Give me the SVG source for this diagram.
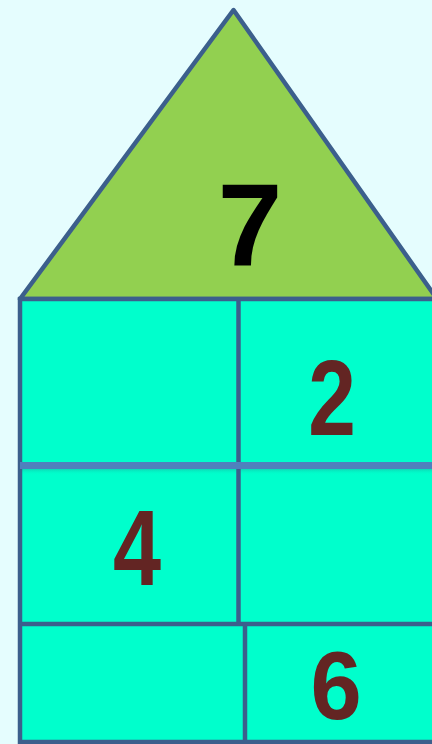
<svg xmlns="http://www.w3.org/2000/svg" width="432" height="744" viewBox="0 0 432 744">
<defs>
<style>
.ln{stroke:#3c5f8c;stroke-width:4.5;fill:none}
.cell{fill:#00ffcc}
.num{font-family:"Liberation Sans",Arial,sans-serif;font-weight:bold;text-anchor:middle;fill:#632523}
</style>
<linearGradient id="sh" x1="0" y1="0" x2="0" y2="1">
<stop offset="0" stop-color="#1aa89a" stop-opacity="0.6"/>
<stop offset="1" stop-color="#00ffcc" stop-opacity="0"/>
</linearGradient>
</defs>
<rect width="432" height="744" fill="#e5fdfe"/>
<g id="roof">
<polygon points="233.5,10 20,299 437,299" fill="#92d050" stroke="#3c5f8c" stroke-width="4.5" stroke-linejoin="round"/>
<text x="250" y="265" font-family="Liberation Sans,Arial,sans-serif" font-weight="bold" font-size="116" text-anchor="middle" fill="#000">7</text>
</g>
<g id="body">
<rect class="cell" x="20" y="299" width="414" height="444"/>
<rect x="20" y="468" width="414" height="7" fill="url(#sh)"/>
<line class="ln" x1="20" y1="297" x2="20" y2="744"/>
<line class="ln" x1="18" y1="299" x2="434" y2="299"/>
<line class="ln" x1="238.5" y1="299" x2="238.5" y2="624"/>
<line class="ln" x1="18" y1="624" x2="434" y2="624"/>
<line class="ln" x1="245" y1="624" x2="245" y2="744"/>
<line class="ln" x1="18" y1="742" x2="434" y2="742"/>
<line x1="20" y1="465.5" x2="434" y2="465.5" stroke="#4f81bd" stroke-width="7"/>
</g>
<g id="cell-2"><text class="num" transform="translate(332,435) scale(0.8,1)" font-size="107">2</text></g>
<g id="cell-4"><text class="num" transform="translate(137,585) scale(0.8,1)" font-size="108">4</text></g>
<g id="cell-6"><text class="num" transform="translate(336,719) scale(0.95,1)" font-size="97">6</text></g>
</svg>
